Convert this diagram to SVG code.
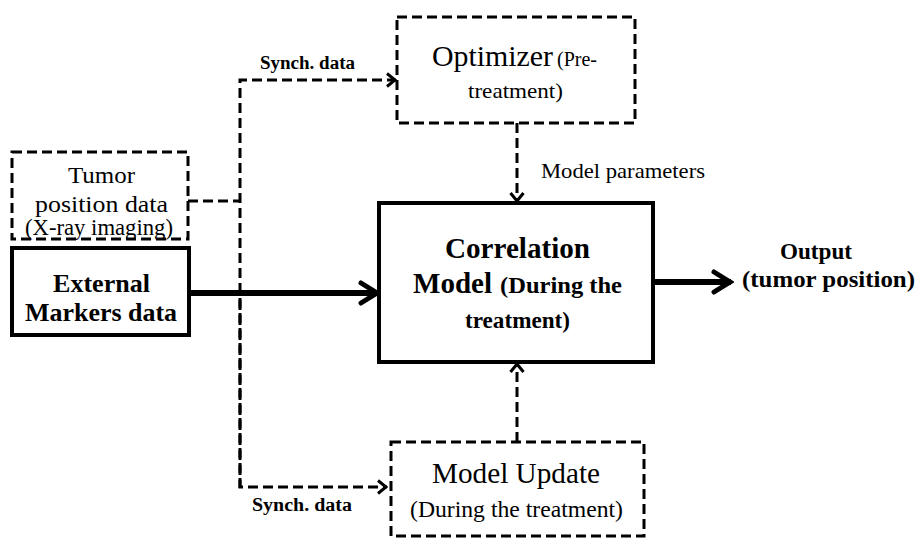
<svg xmlns="http://www.w3.org/2000/svg" width="920" height="538" viewBox="0 0 920 538">
<defs>
<style>
text{font-family:'Liberation Serif','Times New Roman',serif;fill:#000}
.b{font-weight:bold}
.dash{fill:none;stroke:#000;stroke-width:3;stroke-dasharray:10,5}
.solid{fill:#fff;stroke:#000;stroke-width:4}
.dl{fill:none;stroke:#000;stroke-width:3;stroke-dasharray:10,5}
</style>
<marker id="ah" markerWidth="12" markerHeight="16" refX="11" refY="8" orient="auto" markerUnits="userSpaceOnUse">
<path d="M2,1.5 L10,8 L2,14.5" fill="none" stroke="#000" stroke-width="3"/>
</marker>
<marker id="ahb" markerWidth="24" markerHeight="28" refX="21" refY="14" orient="auto" markerUnits="userSpaceOnUse">
<path d="M4,4 L20,14 L4,24" fill="none" stroke="#000" stroke-width="5" stroke-linecap="round"/>
</marker>
</defs>
<rect width="920" height="538" fill="#fff"/>
<g id="connectors">
<path class="dl" d="M188,201 H240"/>
<path class="dl" d="M240,488 V80 H396" marker-end="url(#ah)"/>
<path class="dl" d="M240,300 V487 H387" marker-end="url(#ah)"/>
<path class="dl" d="M517,123 V202" marker-end="url(#ah)"/>
<path class="dl" d="M517,442 V363" marker-end="url(#ah)"/>
<path d="M189,293 H378" fill="none" stroke="#000" stroke-width="6" marker-end="url(#ahb)"/>
<path d="M653,282 H731" fill="none" stroke="#000" stroke-width="6" marker-end="url(#ahb)"/>
<text class="b" x="260" y="69" font-size="18" textLength="95" lengthAdjust="spacingAndGlyphs">Synch. data</text>
<text class="b" x="252" y="511" font-size="18" textLength="100" lengthAdjust="spacingAndGlyphs">Synch. data</text>
<text x="541" y="178" font-size="21" textLength="164" lengthAdjust="spacingAndGlyphs">Model parameters</text>
</g>
<g id="tumor">
<rect class="dash" x="12" y="152" width="176" height="87"/>
<text x="68" y="183" font-size="24" textLength="67" lengthAdjust="spacingAndGlyphs">Tumor</text>
<text x="35" y="212" font-size="24" textLength="133" lengthAdjust="spacingAndGlyphs">position data</text>
<text x="25" y="235" font-size="23" textLength="148" lengthAdjust="spacingAndGlyphs">(X-ray imaging)</text>
</g>
<g id="external">
<rect class="solid" x="12" y="248" width="177" height="87"/>
<text class="b" x="53" y="292" font-size="26" textLength="97" lengthAdjust="spacingAndGlyphs">External</text>
<text class="b" x="25" y="321" font-size="26" textLength="152" lengthAdjust="spacingAndGlyphs">Markers data</text>
</g>
<g id="optimizer">
<rect class="dash" x="397" y="17" width="238" height="106"/>
<text x="432" y="66" font-size="30" textLength="121" lengthAdjust="spacingAndGlyphs">Optimizer</text>
<text x="557" y="66" font-size="20">(Pre-</text>
<text x="468" y="98" font-size="22" textLength="95" lengthAdjust="spacingAndGlyphs">treatment)</text>
</g>
<g id="correlation">
<rect class="solid" x="379" y="203" width="274" height="159"/>
<text class="b" x="445" y="258" font-size="29" textLength="145" lengthAdjust="spacingAndGlyphs">Correlation</text>
<text class="b" x="413" y="293" font-size="29" textLength="79" lengthAdjust="spacingAndGlyphs">Model</text>
<text class="b" x="500" y="293" font-size="23" textLength="122" lengthAdjust="spacingAndGlyphs">(During  the</text>
<text class="b" x="465" y="328" font-size="23" textLength="105" lengthAdjust="spacingAndGlyphs">treatment)</text>
</g>
<g id="output">
<text class="b" x="780" y="259" font-size="24" textLength="72" lengthAdjust="spacingAndGlyphs">Output</text>
<text class="b" x="742" y="287" font-size="24" textLength="173" lengthAdjust="spacingAndGlyphs">(tumor position)</text>
</g>
<g id="update">
<rect class="dash" x="391" y="442" width="253" height="94"/>
<text x="432" y="483" font-size="29" textLength="168" lengthAdjust="spacingAndGlyphs">Model Update</text>
<text x="410" y="517" font-size="23" textLength="213" lengthAdjust="spacingAndGlyphs">(During  the treatment)</text>
</g>
</svg>
